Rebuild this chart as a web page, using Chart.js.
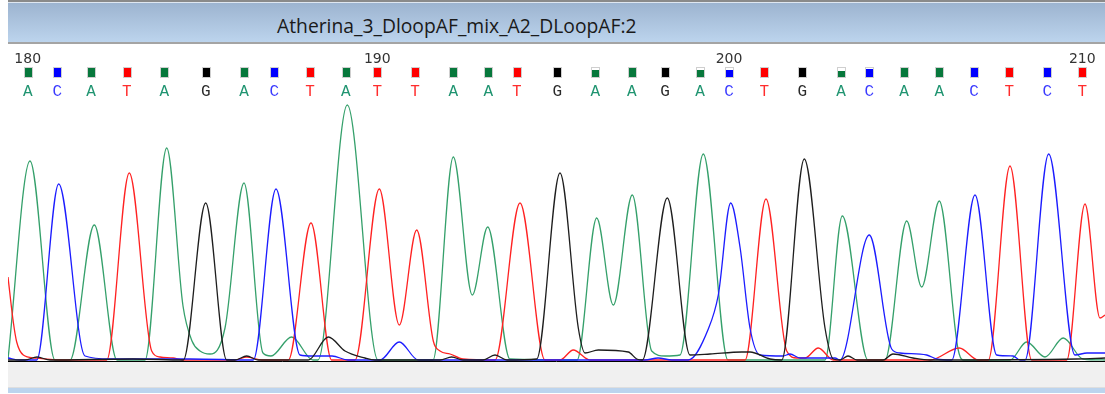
<!DOCTYPE html>
<html>
<head>
<meta charset="utf-8">
<script src="https://cdn.jsdelivr.net/npm/chart.js@4.4.1/dist/chart.umd.min.js"></script>
<style>
  html, body { margin: 0; padding: 0; background: #fff; }
  body { width: 1105px; height: 394px; position: relative; overflow: hidden; }
  #bar {
    position: absolute; left: 8px; top: 0; width: 1097px; height: 44px; box-sizing: border-box;
    border-top: 2px solid #8a8a8a; border-bottom: 2px solid #a4a4a4;
    background: linear-gradient(#9cb3cf, #bcd4ed);
    box-shadow: inset 0 1px 0 #dfe7f1;
  }
  #title {
    position: absolute; left: 269px; top: 14px; font: 19.3px "Open Sans", sans-serif;
    line-height: 19px; color: #1a1a1a; white-space: nowrap;
  }
  #wrap { position: absolute; left: 8px; top: 44px; width: 1097px; height: 318px; }
  #foot { position: absolute; left: 8px; top: 362px; width: 1097px; height: 25px; background: #f0f0f0; border-bottom: 1px solid #dedede; }
  #strip { position: absolute; left: 8px; top: 388px; width: 1097px; height: 5px; background: #bcd4ee; }
</style>
</head>
<body>
<div id="bar"><div id="title">Atherina_3_DloopAF_mix_A2_DLoopAF:2</div></div>
<div id="wrap"><canvas id="trace" width="1097" height="318"></canvas></div>
<div id="foot"></div>
<div id="strip"></div>
<script>
// base calls 180..210
const firstBase = 180;
const bases = "ACATAGACTATTAATGAAGACTGACAACTCT".split("");
const baseScan = [27.7, 57.3, 91, 126.7, 164.3, 205.7, 244, 274.3, 310, 345.7,
  377.3, 415, 453.3, 488.3, 516.7, 557.3, 595.3, 631.7, 665, 700,
  729, 764.3, 802.3, 841, 869.3, 904, 939.3, 974, 1009.3, 1047.3, 1082.3];
const quality = [40, 40, 40, 40, 40, 40, 40, 40, 40, 40,
  40, 40, 40, 40, 40, 40, 32, 40, 40, 32,
  30, 40, 40, 26, 36, 40, 40, 40, 40, 40, 40];

// traces: [scan, signal]
const traceA = [[8,2],[30,200],[55,1],[70,1],[94.3,136],[117,1],[145,1],[166.7,213],[183,55],[192,20],[200,10],
  [210,7],[225,33],[244,178],[263,8],[271,5],[291.7,24],[313,1],[318,1],[347.3,256],[378,1],[433,1],
  [453.3,204],[472.3,66],[487.7,134],[510,2],[577,1],[596.7,143],[613.3,56],[632.3,166],[651.7,10],
  [665,5],[680,6],[703.3,207],[728,1],[825,1],[842.3,145],[868,1],[885,1],[906.7,140],[921.7,74],
  [939.3,160],[958,12],[963,1],[1010,1],[1026.7,19],[1045,4],[1063.3,23],[1083,2],[1105,1]];
const traceC = [[8,3],[20,1],[36.7,1],[58.7,177],[85,5],[110,2],[190,2],[253.3,1],[276,172],[300,6],[312,5],
  [332,5],[348,1],[380,1],[399.3,19],[418.3,1],[645,1],[658,3],[672,1],[688.3,1],[708.3,32],[718.3,66],
  [730.7,158],[740,114],[750,33],[760,6],[783,5],[790,7],[800,3],[835,3],[840,1],[869.3,126],[891.7,12],
  [900,8],[926.7,6],[936.7,2],[951.7,1],[975,166],[996.7,6],[1013,5],[1020,1],[1025,1],[1048.7,207],
  [1075,6],[1087,8],[1105,8]];
const traceT = [[8,84],[13.3,39],[16.7,19],[23.3,6],[35,3],[60,1],[106.7,1],[129.3,188],[151.7,10],[160,4],
  [173,3],[183,1],[235,1],[246.7,4],[262,1],[288.3,1],[311,138],[331.7,1],[355,1],[379.3,172],[399.3,36],
  [416.7,131],[433.3,20],[440,10],[450,7],[463,2],[495,1],[520,158],[545,1],[560,1],[573.3,11],[590,1],
  [745,1],[766,162],[786.7,10],[797,3],[805,3],[818.3,13],[833.3,1],[930,1],[959.3,13],[978.3,1],
  [988.3,1],[1010,195],[1031.7,1],[1066.7,1],[1085,157],[1100,43],[1105,46]];
const traceG = [[8,1],[25,1],[37,4],[50,1],[133,2],[183.3,1],[205.7,158],[226.7,1],[235,1],[246.7,5],[258,1],
  [308.3,1],[328.3,24],[345,10],[365,3],[375,1],[440,1],[451.7,4],[463,1],[483,1],[495,6],[507,1],
  [536.7,2],[560,188],[578.3,33],[585,8],[598.3,11],[628.3,9],[636.7,2],[642.3,1],[667.3,163],[690,6],
  [710,7],[741.7,9],[750,9],[770,2],[781.7,1],[804.3,202],[825,33],[833.3,2],[840,1],[848,5],[857,1],
  [883,1],[893,7],[913,3],[930,1],[1077,2],[1105,3]];

const lineColor = { A: '#35a06b', C: '#1c1cff', G: '#1e1e1e', T: '#ff2222' };
const boxColor = { A: '#07783c', C: '#0000ff', G: '#000000', T: '#ff0000' };
const textColor = { A: '#1f9470', C: '#3a3aff', G: '#2a2a2a', T: '#ff2d2d' };

const baseCalls = {
  id: 'baseCalls',
  afterDatasetsDraw(chart) {
    const { ctx, scales: { x, y }, chartArea } = chart;
    ctx.save();
    // baseline
    const by = Math.round(y.getPixelForValue(0)) + 0.5;
    ctx.strokeStyle = '#000';
    ctx.lineWidth = 1;
    ctx.beginPath();
    ctx.moveTo(chartArea.left, by);
    ctx.lineTo(chartArea.right, by);
    ctx.stroke();

    bases.forEach((b, i) => {
      const px = x.getPixelForValue(baseScan[i]);
      const pos = firstBase + i;
      if (pos % 10 === 0) {
        ctx.font = '14px "DejaVu Sans"';
        ctx.textAlign = 'center';
        ctx.textBaseline = 'alphabetic';
        ctx.fillStyle = '#333';
        ctx.fillText(String(pos), px, 19);
      }
      // quality box
      const bx = Math.round(px) - 4;
      ctx.fillStyle = '#cfcfcf';
      ctx.fillRect(bx, 23, 9, 11);
      ctx.fillStyle = '#fff';
      ctx.fillRect(bx + 1, 24, 7, 9);
      const fill = Math.min(1, quality[i] / 40);
      const h = Math.round(9 * fill);
      ctx.fillStyle = boxColor[b];
      ctx.fillRect(bx + 1, 24 + 9 - h, 7, h);
      // letter
      ctx.font = '16px "Liberation Mono"';
      ctx.textAlign = 'center';
      ctx.fillStyle = textColor[b];
      ctx.fillText(b, px, 52);
    });
    ctx.restore();
  }
};

function ds(label, data, color) {
  return { label, data, borderColor: color, borderWidth: 1.3, pointRadius: 0, cubicInterpolationMode: 'monotone', fill: false };
}

new Chart(document.getElementById('trace'), {
  type: 'line',
  data: {
    datasets: [
      ds('G', traceG, lineColor.G),
      ds('C', traceC, lineColor.C),
      ds('T', traceT, lineColor.T),
      ds('A', traceA, lineColor.A)
    ]
  },
  options: {
    responsive: false,
    devicePixelRatio: 1,
    animation: false,
    layout: { padding: { top: 56, bottom: 1, left: 0, right: 0 } },
    scales: {
      x: { type: 'linear', min: 8, max: 1105, display: false },
      y: { min: 0, max: 261, display: false }
    },
    plugins: { legend: { display: false }, tooltip: { enabled: false } }
  },
  plugins: [baseCalls]
});
</script>
</body>
</html>
